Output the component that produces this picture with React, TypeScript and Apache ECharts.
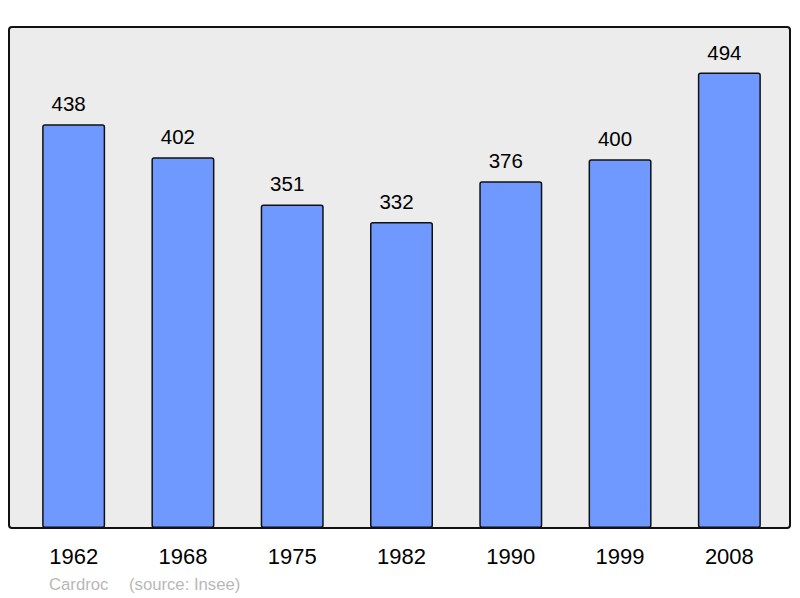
import React, { useEffect, useRef } from "react";
import * as echarts from "echarts";

const years = ["1962", "1968", "1975", "1982", "1990", "1999", "2008"];
const population = [438, 402, 351, 332, 376, 400, 494];
const author = "Cardroc";
const source = "(source: Insee)";

export default function App() {
  const ref = useRef<HTMLDivElement>(null);
  useEffect(() => {
    const chart = echarts.init(ref.current!, null, { renderer: "svg" });
    chart.setOption({
      animation: false,
      grid: { left: 19, right: 16, top: 27, bottom: 70 },
      xAxis: {
        type: "category",
        data: years,
        axisLine: { show: false },
        axisTick: { show: false },
        axisLabel: {
          color: "#000",
          fontSize: 22,
          fontFamily: "Liberation Sans, Arial, sans-serif",
          margin: 17,
        },
      },
      yAxis: {
        type: "value",
        min: 0,
        max: 543.4,
        show: false,
        splitLine: { show: false },
      },
      graphic: [
        {
          type: "rect",
          z: -10,
          shape: { x: 9, y: 27, width: 781, height: 501, r: 3 },
          style: { fill: "#ececec" },
          silent: true,
        },
        {
          type: "rect",
          z: 100,
          shape: { x: 9, y: 27, width: 781, height: 501, r: 3 },
          style: { fill: "none", stroke: "#111", lineWidth: 2 },
          silent: true,
        },
        {
          type: "text",
          x: 49,
          y: 584,
          style: {
            text: author,
            fill: "#b8b8b8",
            fontSize: 16.7,
            fontFamily: "Liberation Sans, Arial, sans-serif",
            verticalAlign: "middle",
          },
        },
        {
          type: "text",
          x: 129,
          y: 584,
          style: {
            text: source,
            fill: "#b8b8b8",
            fontSize: 16.7,
            fontFamily: "Liberation Sans, Arial, sans-serif",
            verticalAlign: "middle",
          },
        },
      ],
      series: [
        {
          type: "bar",
          data: population,
          barWidth: 63,
          itemStyle: {
            color: "#7099ff",
            borderColor: "#111",
            borderWidth: 1.5,
            borderRadius: 2,
          },
          label: {
            show: true,
            position: "top",
            distance: 10,
            offset: [-5, 0],
            color: "#000",
            fontSize: 20.5,
            fontFamily: "Liberation Sans, Arial, sans-serif",
          },
        },
      ],
    });
    return () => chart.dispose();
  }, []);
  return <div ref={ref} style={{ width: 800, height: 598, position: "absolute", left: 0, top: 0 }} />;
}
